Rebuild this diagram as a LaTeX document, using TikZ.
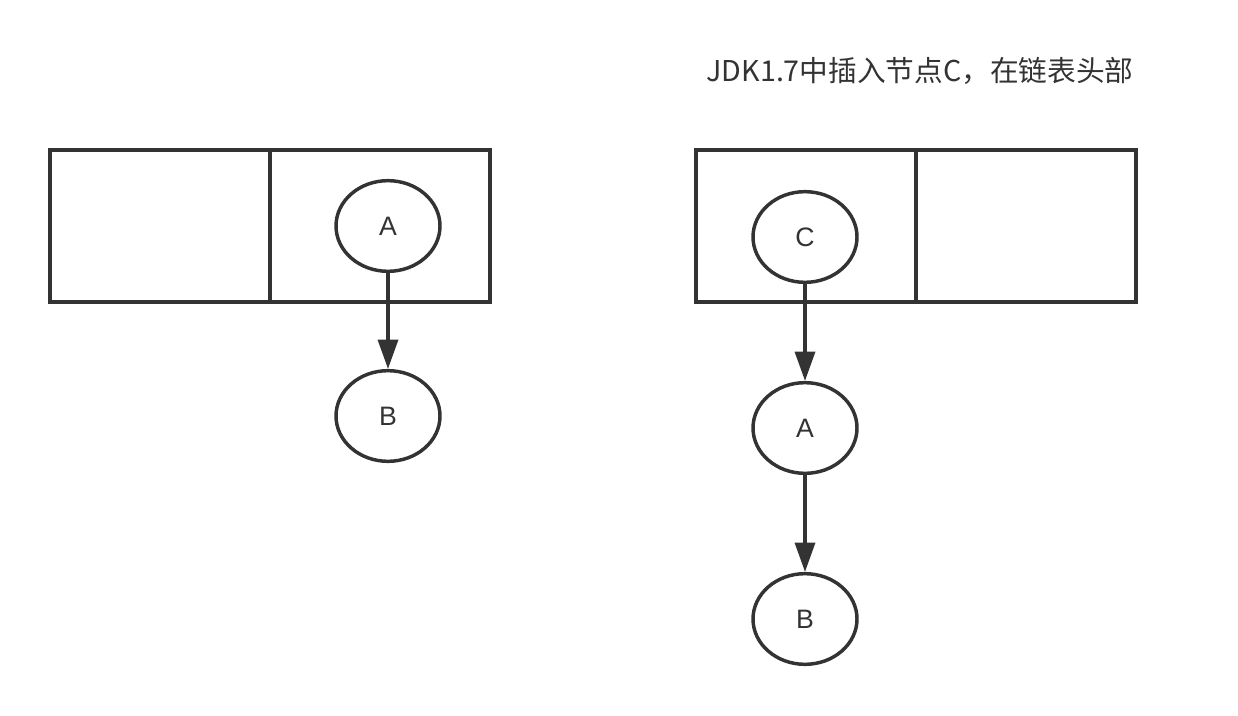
\documentclass[tikz,border=0pt]{standalone}
\usepackage{fontspec}
\setmainfont{Liberation Sans}
\newfontfamily\cjk{Noto Sans CJK SC}
\usetikzlibrary{arrows.meta,shapes.geometric}
\definecolor{ink}{HTML}{333333}
\tikzset{
  cell/.style={draw=ink, line width=2.6pt},
  elnode/.style={draw=ink, line width=2.6pt, ellipse, minimum width=78pt, minimum height=68pt, inner sep=0pt, font=\fontsize{20}{22}\selectfont, text=ink},
  conn/.style={draw=ink, line width=2.6pt, -{Triangle[length=22pt,width=15pt]}}
}
\begin{document}
\begin{tikzpicture}[x=0.75pt,y=-0.75pt]
\useasboundingbox (0,0) rectangle (1238,716);
% left box
\draw[cell] (50,150) rectangle (490,302);
\draw[cell] (270,150) -- (270,302);
\node[elnode] (la) at (388,226) {A};
\node[elnode] (lb) at (388,416) {B};
\draw[conn] (la) -- (lb);
% right box
\draw[cell] (696,150) rectangle (1136,302);
\draw[cell] (916,150) -- (916,302);
\node[elnode] (rc) at (805,237) {C};
\node[elnode] (ra) at (805,428) {A};
\node[elnode] (rb) at (805,619) {B};
\draw[conn] (rc) -- (ra);
\draw[conn] (ra) -- (rb);
\node[text=ink, font=\cjk\fontsize{21.5}{24}\selectfont, inner sep=0pt] (title) at (920,71) {JDK1.7中插入节点C，在链表头部};
\end{tikzpicture}
\end{document}
